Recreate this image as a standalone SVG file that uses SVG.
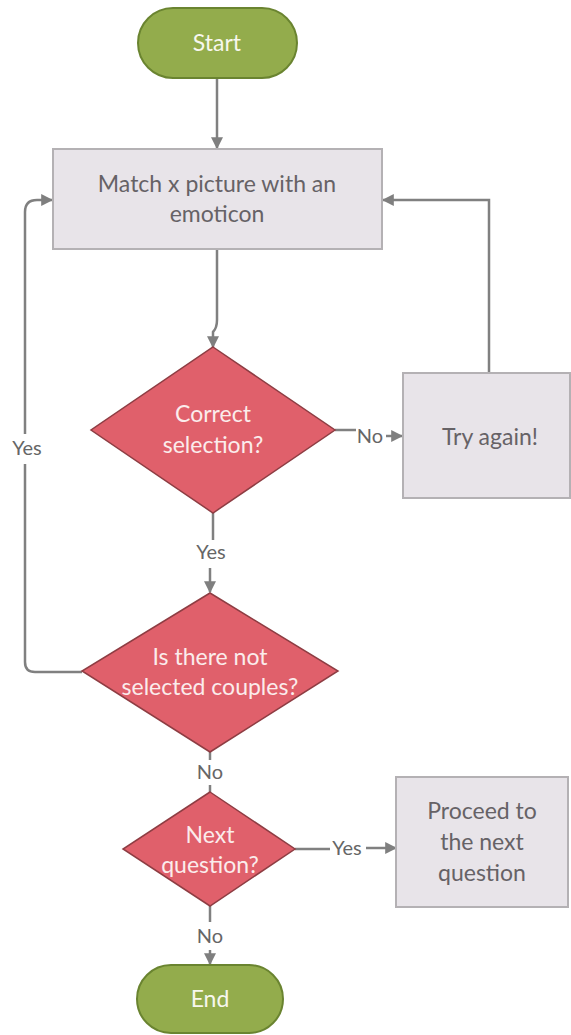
<svg xmlns="http://www.w3.org/2000/svg" width="571" height="1035" viewBox="0 0 571 1035">
<defs>
<marker id="arr" viewBox="0 0 10 10" refX="9" refY="5" markerWidth="12" markerHeight="12" markerUnits="userSpaceOnUse" orient="auto">
<path d="M0,0 L10,5 L0,10 z" fill="#7f7f7f"/>
</marker>
<style>
.term{fill:#93ac4c;stroke:#6a8430;stroke-width:2}
.proc{fill:#e8e4e9;stroke:#b4b1b4;stroke-width:2}
.dec{fill:#e0606b;stroke:#8e3d43;stroke-width:1.5}
.line{fill:none;stroke:#808080;stroke-width:2.5}
text{font-family:Lato,"Open Sans","Liberation Sans",sans-serif;font-size:23px;text-anchor:middle}
.tl{fill:#f7f7ee}
.pl{fill:#666266}
.dl{fill:#fbecec}
.el{fill:#666666;font-size:20px}
</style>
</defs>
<rect width="571" height="1035" fill="#ffffff"/>
<g id="connectors">
<path class="line" d="M217,79 V148" marker-end="url(#arr)"/>
<path class="line" d="M217,250 V320 Q217,328 213,332 V347" marker-end="url(#arr)"/>
<path class="line" d="M335,430 H356"/>
<path class="line" d="M386,436 H402" marker-end="url(#arr)"/>
<path class="line" d="M489,373 V200 H383" marker-end="url(#arr)"/>
<path class="line" d="M213,513 V540"/>
<path class="line" d="M210,568 V592" marker-end="url(#arr)"/>
<path class="line" d="M82,672 H35 Q25,672 25,662 V464"/>
<path class="line" d="M25,434 V212 Q25,200 37,200 H52" marker-end="url(#arr)"/>
<path class="line" d="M210,752 V760"/>
<path class="line" d="M210,785 V792"/>
<path class="line" d="M295,849 H330"/>
<path class="line" d="M366,848 H396" marker-end="url(#arr)"/>
<path class="line" d="M210,906 V922"/>
<path class="line" d="M210,950 V964" marker-end="url(#arr)"/>
<text class="el" x="370" y="443">No</text>
<text class="el" x="27" y="455">Yes</text>
<text class="el" x="211" y="559">Yes</text>
<text class="el" x="210" y="779">No</text>
<text class="el" x="347" y="855">Yes</text>
<text class="el" x="210" y="943">No</text>
</g>
<g id="start">
<rect class="term" x="138" y="8" width="159" height="70" rx="35"/>
<text class="tl" x="217" y="51">Start</text>
</g>
<g id="match">
<rect class="proc" x="53" y="149" width="329" height="100"/>
<text class="pl" x="217" y="192">Match x picture with an</text>
<text class="pl" x="217" y="222">emoticon</text>
</g>
<g id="correct">
<polygon class="dec" points="213,347 335,430 213,513 91,430"/>
<text class="dl" x="213" y="422">Correct</text>
<text class="dl" x="213" y="453">selection?</text>
</g>
<g id="tryagain">
<rect class="proc" x="403" y="373" width="167" height="125"/>
<text class="pl" x="490" y="445">Try again!</text>
</g>
<g id="notselected">
<polygon class="dec" points="210,593 338,671 210,752 82,671"/>
<text class="dl" x="210" y="665">Is there not</text>
<text class="dl" x="210" y="695">selected couples?</text>
</g>
<g id="nextq">
<polygon class="dec" points="210,792 295,849 210,906 123,849"/>
<text class="dl" x="210" y="843">Next</text>
<text class="dl" x="210" y="873">question?</text>
</g>
<g id="proceed">
<rect class="proc" x="396" y="777" width="172" height="130"/>
<text class="pl" x="482" y="819">Proceed to</text>
<text class="pl" x="482" y="850">the next</text>
<text class="pl" x="482" y="881">question</text>
</g>
<g id="end">
<rect class="term" x="137" y="965" width="146" height="68" rx="34"/>
<text class="tl" x="210" y="1007">End</text>
</g>
</svg>
